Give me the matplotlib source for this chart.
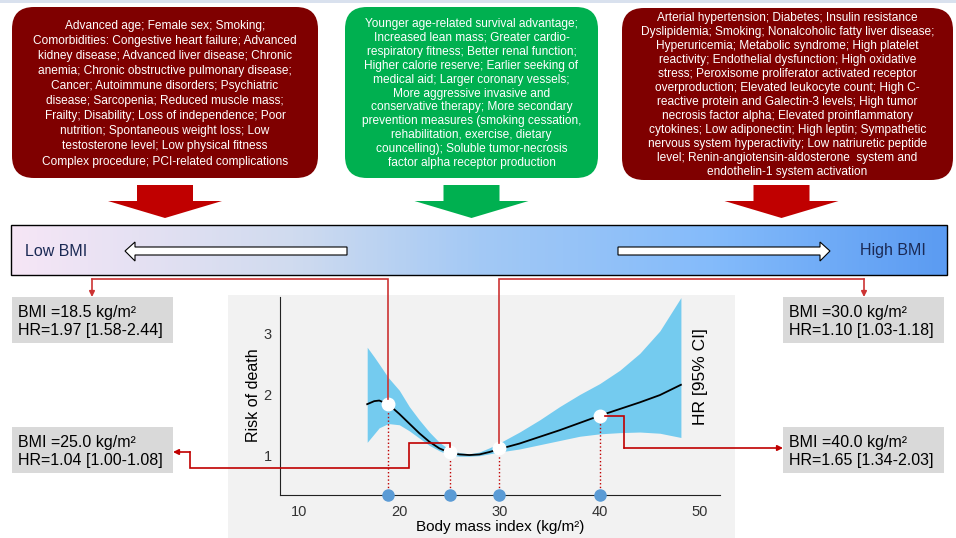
import matplotlib.pyplot as plt
import numpy as np
from matplotlib.patches import FancyBboxPatch, Rectangle, Polygon
from matplotlib.colors import LinearSegmentedColormap

plt.rcParams['font.family'] = ['Liberation Sans', 'DejaVu Sans']

# Spline curve
bmi = [16.8, 17.5, 18, 18.9, 20, 21, 22, 23, 24, 25, 26, 27, 28, 29, 30,
       32, 34, 36, 38, 40, 42, 44, 46, 48.1]
hr = [1.84, 1.89, 1.90, 1.84, 1.68, 1.52, 1.36, 1.22, 1.11, 1.04, 1.01, 1.00,
      1.01, 1.05, 1.10, 1.19, 1.30, 1.41, 1.53, 1.65, 1.76, 1.87, 1.99, 2.16]
ci_low = [1.21, 1.35, 1.45, 1.52, 1.50, 1.40, 1.28, 1.16, 1.07, 1.00, 0.98, 0.98,
          0.99, 1.02, 1.05, 1.10, 1.17, 1.24, 1.31, 1.35, 1.37, 1.38, 1.36, 1.29]
ci_high = [2.78, 2.62, 2.50, 2.28, 2.07, 1.80, 1.58, 1.38, 1.21, 1.09, 1.04, 1.02,
           1.05, 1.12, 1.20, 1.38, 1.58, 1.80, 2.00, 2.18, 2.40, 2.68, 3.05, 3.60]

# highlighted points
pt_bmi = [18.9, 25.1, 30.0, 40.0]
pt_hr = [1.84, 1.05, 1.11, 1.645]
box_bmi = ['18.5', '25.0', '30.0', '40.0']
box_hr = ['1.97 [1.58-2.44]', '1.04 [1.00-1.08]', '1.10 [1.03-1.18]', '1.65 [1.34-2.03]']

x_ticks = [10, 20, 30, 40, 50]
y_ticks = [1, 2, 3]

low_bmi_lines = [
    "Advanced age; Female sex; Smoking;",
    "Comorbidities: Congestive heart failure; Advanced",
    "kidney disease; Advanced liver disease; Chronic",
    "anemia; Chronic obstructive pulmonary disease;",
    "Cancer; Autoimmune disorders; Psychiatric",
    "disease; Sarcopenia; Reduced muscle mass;",
    "Frailty; Disability; Loss of independence; Poor",
    "nutrition; Spontaneous weight loss; Low",
    "testosterone level; Low physical fitness",
    "Complex procedure; PCI-related complications",
]
protect_lines = [
    "Younger age-related survival advantage;",
    "Increased lean mass; Greater cardio-",
    "respiratory fitness; Better renal function;",
    "Higher calorie reserve; Earlier seeking of",
    "medical aid; Larger coronary vessels;",
    "More aggressive invasive and",
    "conservative therapy; More secondary",
    "prevention measures (smoking cessation,",
    "rehabilitation, exercise, dietary",
    "councelling); Soluble tumor-necrosis",
    "factor alpha receptor production",
]
high_bmi_lines = [
    "Arterial hypertension; Diabetes; Insulin resistance",
    "Dyslipidemia; Smoking; Nonalcoholic fatty liver disease;",
    "Hyperuricemia; Metabolic syndrome; High platelet",
    "reactivity; Endothelial dysfunction; High oxidative",
    "stress; Peroxisome proliferator activated receptor",
    "overproduction; Elevated leukocyte count; High C-",
    "reactive protein and Galectin-3 levels; High tumor",
    "necrosis factor alpha; Elevated proinflammatory",
    "cytokines; Low adiponectin; High leptin; Sympathetic",
    "nervous system hyperactivity; Low natriuretic peptide",
    "level; Renin-angiotensin-aldosterone  system and",
    "endothelin-1 system activation",
]

W, H = 956, 538
fig = plt.figure(figsize=(W / 100, H / 100), dpi=100)
fig.patch.set_facecolor('white')

# background layer in pixel units
bg = fig.add_axes([0, 0, 1, 1])
bg.axis('off')

bg.add_patch(Rectangle((0, 0), W, 3, fc='#d9e1ee', lw=0))

# text boxes on top
boxes = [(12, 7, 306, 171, '#7f0000', low_bmi_lines, 25.7, 15.1),
         (345, 7, 253, 171, '#00b050', protect_lines, 24.0, 13.9),
         (622, 8, 331, 172, '#7f0000', high_bmi_lines, 17.6, 14.04)]
for x0, y0, w, h, col, lines, first, step in boxes:
    bg.add_patch(FancyBboxPatch((x0, y0), w, h, boxstyle='round,pad=0,rounding_size=22',
                                fc=col, ec='none'))
    for i, line in enumerate(lines):
        bg.text(x0 + w / 2, first + i * step, line, ha='center', va='center',
                color='white', fontsize=8.6)

# big down arrows
def down_arrow(cx, col):
    pts = [(cx - 28, 185), (cx + 28, 185), (cx + 28, 201), (cx + 57, 201),
           (cx, 218), (cx - 57, 201), (cx - 28, 201)]
    bg.add_patch(Polygon(pts, closed=True, fc=col, ec='none'))

down_arrow(165, '#c00000')
down_arrow(471.5, '#00b050')
down_arrow(781.5, '#c00000')

# gradient bar
cmap = LinearSegmentedColormap.from_list('bar', [(0, '#f6e6f6'), (0.3, '#d0dbef'),
                                                 (0.5, '#a3c9f5'), (0.75, '#84bbfb'),
                                                 (1, '#5b9bf2')])
bg.imshow(np.linspace(0, 1, 256)[None, :], extent=(11, 947, 275, 225), aspect='auto',
          cmap=cmap, zorder=1)
bg.add_patch(Rectangle((11, 225), 936, 50, fc='none', ec='black', lw=1, zorder=2))

left_arrow = [(347, 247), (135, 247), (135, 242), (125, 251), (135, 261), (135, 255), (347, 255)]
right_arrow = [(618, 247), (820, 247), (820, 242), (830, 251), (820, 261), (820, 255), (618, 255)]
for pts in (left_arrow, right_arrow):
    bg.add_patch(Polygon(pts, closed=True, fc='white', ec='black', lw=0.8, zorder=3))
bg.text(25, 251, 'Low BMI', ha='left', va='center', fontsize=11.5, color='#1b2a55', zorder=3)
bg.text(926, 251, 'High BMI', ha='right', va='center', fontsize=11.5, color='#1b2a55', zorder=3)

# grey panel behind chart
bg.add_patch(Rectangle((228, 295), 507, 243, fc='#f2f2f2', lw=0))

# value boxes
box_pos = [(12, 297), (12, 427), (783, 297), (783, 427)]
for (bx, by), b, r in zip(box_pos, box_bmi, box_hr):
    bg.add_patch(Rectangle((bx, by), 161, 46, fc='#d9d9d9', lw=0))
    bg.text(bx + 6, by + 15, f'BMI ={b} kg/m²', ha='left', va='center', fontsize=11.5)
    bg.text(bx + 6, by + 33, f'HR={r}', ha='left', va='center', fontsize=11.5)

bg.set_xlim(0, W)
bg.set_ylim(H, 0)

# the chart
ax = fig.add_axes([280 / W, (H - 495) / H, 440 / W, 198 / H])
ax.set_facecolor('none')
ax.set_xlim(8.1, 52.0)
ax.set_ylim(0.34, 3.61)
ax.fill_between(bmi, ci_low, ci_high, color='#74cbef', lw=0)
ax.plot(bmi, hr, color='black', lw=1.3)
y0 = ax.get_ylim()[0]
ax.vlines(pt_bmi, y0, pt_hr, colors='#c00000', linestyles=':', lw=1)
ax.plot(pt_bmi, pt_hr, 'o', color='white', ms=9, zorder=5)
ax.plot(pt_bmi, [y0] * len(pt_bmi), 'o', color='#5b9bd5', ms=8, clip_on=False, zorder=6)

ax.set_xticks(x_ticks)
ax.set_yticks(y_ticks)
ax.tick_params(length=0, labelsize=10.5, labelcolor='#333333')
ax.tick_params(axis='x', pad=7)
ax.tick_params(axis='y', pad=6)
for s in ['top', 'right']:
    ax.spines[s].set_visible(False)
for s in ['left', 'bottom']:
    ax.spines[s].set_color('#222222')
ax.text(-0.061, 0.505, 'Risk of death', transform=ax.transAxes, rotation=90,
        ha='center', va='center', fontsize=11.5)
ax.text(0.955, 0.596, 'HR [95% CI]', transform=ax.transAxes, rotation=90,
        ha='center', va='center', fontsize=12.5)
ax.text(0.5, -0.162, 'Body mass index (kg/m²)', transform=ax.transAxes,
        ha='center', va='center', fontsize=11)

# connectors overlay
top = fig.add_axes([0, 0, 1, 1], zorder=10)
top.set_facecolor('none')
top.axis('off')
top.set_xlim(0, W)
top.set_ylim(H, 0)


def to_px(x, y):
    dx, dy = ax.transData.transform((x, y))
    return dx, H - dy


def connector(path, end, col):
    xs, ys = zip(*path)
    top.plot(xs, ys, color=col, lw=1.2, solid_joinstyle='miter')
    top.annotate('', xy=end, xytext=path[-1],
                 arrowprops=dict(arrowstyle='-|>', color=col, lw=1.2,
                                 mutation_scale=8, shrinkA=0, shrinkB=0))


p = [to_px(x, y) for x, y in zip(pt_bmi, pt_hr)]
up_col = '#cc3333'
low_col = '#c00000'
connector([(p[0][0], p[0][1] - 5), (p[0][0], 279), (92, 279)], (92, 297), up_col)
connector([(p[2][0], p[2][1] - 5), (p[2][0], 279), (864, 279)], (864, 297), up_col)
connector([(p[1][0], p[1][1] - 5), (p[1][0], 443), (409, 443), (409, 468),
           (190, 468), (190, 452)], (173, 452), low_col)
connector([(p[3][0] + 5, p[3][1]), (624, p[3][1]), (624, 448)], (783, 448), low_col)

fig.savefig('out.png', dpi=100)
